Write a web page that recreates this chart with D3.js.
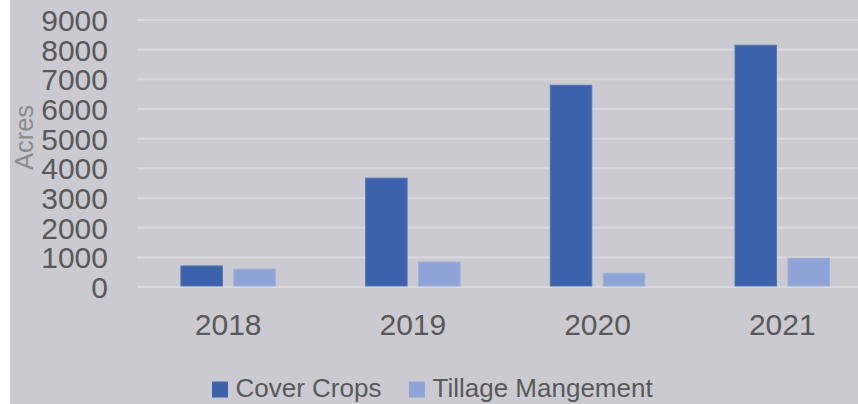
<!DOCTYPE html>
<html><head><meta charset="utf-8">
<script src="https://cdn.jsdelivr.net/npm/d3@7"></script>
<style>html,body{margin:0;padding:0;background:#fff;}svg{display:block;}</style>
</head><body>
<script>
const categories = ["2018", "2019", "2020", "2021"];
const seriesNames = ["Cover Crops", "Tillage Mangement"];
const coverCrops = [710, 3670, 6800, 8150];
const tillage = [600, 840, 460, 970];
const yTicks = [0, 1000, 2000, 3000, 4000, 5000, 6000, 7000, 8000, 9000];
const colors = ["#3b62ab", "#8fa4d6"];

const W = 858, H = 404;
const svg = d3.select("body").append("svg").attr("width", W).attr("height", H);
svg.append("rect").attr("x", 10).attr("y", 0).attr("width", W - 10).attr("height", H).attr("fill", "#cacad0");

const y = d3.scaleLinear().domain([0, 9000]).range([287, 20]);
const x0 = d3.scaleBand().domain(categories).range([135.8, 135.8 + 4 * 184.7]).padding(0);
const x1 = d3.scaleBand().domain(seriesNames).range([0, 94.5]).paddingInner(0.217).paddingOuter(0);
const groupOffset = (x0.bandwidth() - 94.5) / 2;

// gridlines
svg.append("g").selectAll("line").data(yTicks).join("line")
  .attr("x1", 137).attr("x2", W)
  .attr("y1", d => y(d)).attr("y2", d => y(d))
  .attr("stroke", "#d9d9dd").attr("stroke-width", 2);

// y axis labels
const yAxis = d3.axisLeft(y).tickValues(yTicks).tickSize(0).tickPadding(0).tickFormat(d3.format("d"));
const gy = svg.append("g").attr("transform", "translate(108,0)").call(yAxis);
gy.select(".domain").remove();
gy.selectAll("text").attr("font-family", "Liberation Sans, Arial, sans-serif").attr("font-size", 30).attr("fill", "#595959").attr("dy", "0.35em");

// x axis labels
const xAxis = d3.axisBottom(x0).tickSize(0).tickPadding(0);
const gx = svg.append("g").attr("transform", "translate(0,313)").call(xAxis);
gx.select(".domain").remove();
gx.selectAll("text").attr("font-family", "Liberation Sans, Arial, sans-serif").attr("font-size", 30).attr("fill", "#595959").attr("dy", "0.74em");

// bars
const data = categories.map((c, i) => ({cat: c, vals: [coverCrops[i], tillage[i]]}));
const groups = svg.append("g").selectAll("g").data(data).join("g")
  .attr("transform", d => `translate(${x0(d.cat) + groupOffset},0)`);
groups.selectAll("rect").data(d => d.vals.map((v, j) => ({name: seriesNames[j], v, j}))).join("rect")
  .attr("x", d => x1(d.name)).attr("width", x1.bandwidth())
  .attr("y", d => y(d.v)).attr("height", d => y(0) - y(d.v) - 1)
  .attr("fill", d => colors[d.j])
  .attr("stroke", d => d.j === 0 ? "#5576b6" : "#9db0db").attr("stroke-width", 1);

// y axis title
svg.append("text").attr("transform", "translate(33,137.5) rotate(-90)")
  .attr("text-anchor", "middle").attr("font-family", "Liberation Sans, Arial, sans-serif")
  .attr("font-size", 25.5).attr("fill", "#8c8c8c").text("Acres");

// legend
const legendX = [212, 409];
const lg = svg.append("g").selectAll("g").data(seriesNames).join("g")
  .attr("transform", (d, i) => `translate(${legendX[i]},0)`);
lg.append("rect").attr("x", 0).attr("y", 381.5).attr("width", 16).attr("height", 16).attr("fill", (d, i) => colors[i]);
lg.append("text").attr("x", 23.5).attr("y", 396.5).attr("font-family", "Liberation Sans, Arial, sans-serif")
  .attr("font-size", 26).attr("fill", "#595959").text(d => d);
</script>
</body></html>
